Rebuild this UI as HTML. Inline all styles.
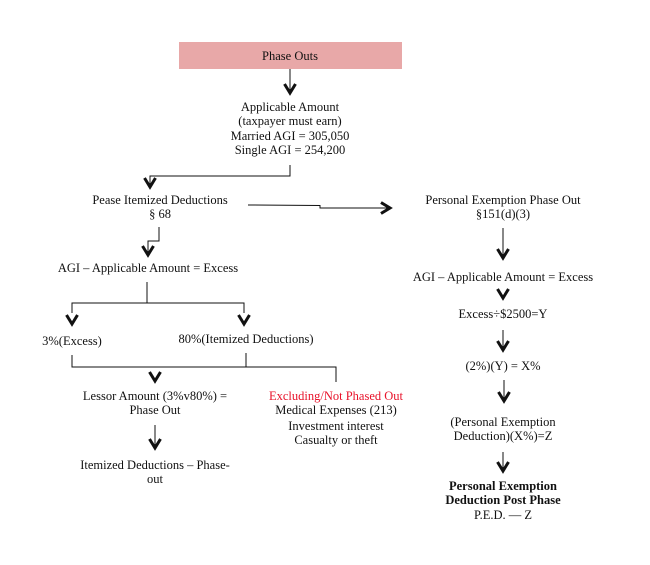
<!DOCTYPE html>
<html><head><meta charset="utf-8"><style>
body{margin:0;background:#fff;width:650px;height:560px;overflow:hidden}
svg text{font-family:"Liberation Serif",serif;font-size:12.5px;fill:#111}
</style></head><body>
<svg width="650" height="560" viewBox="0 0 650 560" xmlns="http://www.w3.org/2000/svg">
<defs>
<g id="v"><polyline points="-5.5,-9 0,0 5.5,-9" fill="none" stroke="#111" stroke-width="3"/></g>
<g id="r"><polyline points="-9,-5.5 0,0 -9,5.5" fill="none" stroke="#111" stroke-width="3"/></g>
</defs>
<rect x="179" y="42" width="223" height="27" fill="#e8a8a8"/>
<text x="290" y="60" text-anchor="middle">Phase Outs</text>
<g stroke="#111" stroke-width="1" fill="none">
<line x1="290" y1="69" x2="290" y2="90"/>
<polyline points="290,165 290,176 150,176 150,186"/>
<polyline points="248,205 320,205.5 320,208 388,208"/>
<polyline points="159,227 159,241 148,241 148,254"/>
<polyline points="147,282 147,303"/>
<polyline points="72,313 72,303 244,303 244,313"/>
<polyline points="72,355 72,367 336,367 336,382"/>
<line x1="246" y1="353" x2="246" y2="367"/>
<line x1="155" y1="425" x2="155" y2="447"/>
<line x1="503" y1="228" x2="503" y2="257"/>
<line x1="503" y1="330" x2="503" y2="349"/>
<line x1="504" y1="380" x2="504" y2="400"/>
<line x1="503" y1="452" x2="503" y2="470"/>
</g>
<use href="#v" x="290" y="93"/>
<use href="#v" x="150" y="187"/>
<use href="#r" x="390" y="208"/>
<use href="#v" x="148" y="255"/>
<use href="#v" x="72" y="324"/>
<use href="#v" x="244" y="324"/>
<use href="#v" x="155" y="381"/>
<use href="#v" x="155" y="448"/>
<use href="#v" x="503" y="258"/>
<use href="#v" x="503" y="298"/>
<use href="#v" x="503" y="350"/>
<use href="#v" x="504" y="401"/>
<use href="#v" x="503" y="471"/>
<g text-anchor="middle">
<text x="290" y="111">Applicable Amount</text>
<text x="290" y="125">(taxpayer must earn)</text>
<text x="290" y="140">Married AGI = 305,050</text>
<text x="290" y="154">Single AGI = 254,200</text>
<text x="160" y="204">Pease Itemized Deductions</text>
<text x="160" y="218">§ 68</text>
<text x="148" y="272">AGI – Applicable Amount = Excess</text>
<text x="72" y="345">3%(Excess)</text>
<text x="246" y="343">80%(Itemized Deductions)</text>
<text x="155" y="400">Lessor Amount (3%v80%) =</text>
<text x="155" y="414">Phase Out</text>
<text x="336" y="400" style="fill:#e8122a">Excluding/Not Phased Out</text>
<text x="336" y="414">Medical Expenses (213)</text>
<text x="336" y="430">Investment interest</text>
<text x="336" y="444">Casualty or theft</text>
<text x="155" y="469">Itemized Deductions – Phase-</text>
<text x="155" y="483">out</text>
<text x="503" y="204">Personal Exemption Phase Out</text>
<text x="503" y="218">§151(d)(3)</text>
<text x="503" y="281">AGI – Applicable Amount = Excess</text>
<text x="503" y="318">Excess÷$2500=Y</text>
<text x="503" y="370">(2%)(Y) = X%</text>
<text x="503" y="426">(Personal Exemption</text>
<text x="503" y="440">Deduction)(X%)=Z</text>
<text x="503" y="490" font-weight="bold">Personal Exemption</text>
<text x="503" y="504" font-weight="bold">Deduction Post Phase</text>
<text x="503" y="519">P.E.D. — Z</text>
</g>
</svg>
</body></html>
